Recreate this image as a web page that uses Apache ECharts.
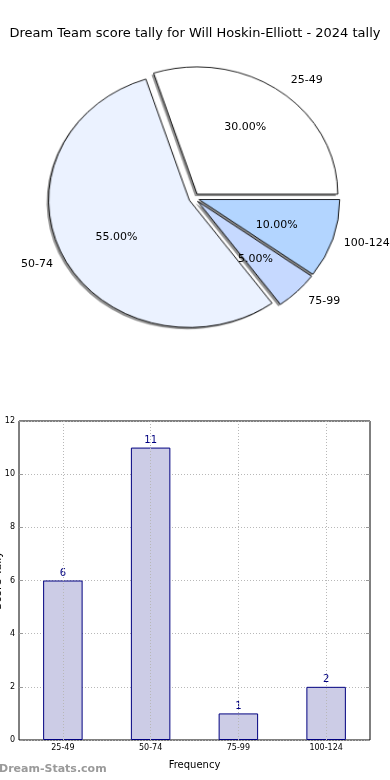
<!DOCTYPE html>
<html>
<head>
<meta charset="utf-8">
<script src="https://cdn.jsdelivr.net/npm/echarts@6/dist/echarts.min.js"></script>
<style>
html,body{margin:0;padding:0;background:#fff;}
#wrap{position:relative;width:390px;height:780px;overflow:hidden;}
#pieShapes{position:absolute;left:0;top:0;width:390px;height:400px;transform-origin:194px 198px;transform:scale(1.05,0.95);}
#chart{position:absolute;left:0;top:0;width:390px;height:780px;}
</style>
</head>
<body>
<div id="wrap">
<div id="pieShapes"></div>
<div id="chart"></div>
</div>
<script>
const titleText = 'Dream Team score tally for Will Hoskin-Elliott - 2024 tally';
const categories = ['25-49', '50-74', '75-99', '100-124'];
const counts = [6, 11, 1, 2];
const yTicksMin = 0, yTicksMax = 12, yTicksStep = 2;

const pieColors = ['#ffffff', '#ebf2ff', '#c6d9ff', '#b3d5ff'];
const FONT = 'DejaVu Sans';
const R = 134;
const CX = 194, CY = 198;
const OFFSET = 5;

const pieData = categories.map((c, i) => ({
  name: c, value: counts[i], selected: true,
  itemStyle: { color: pieColors[i] }
}));
const shadowData = categories.map((c, i) => ({ name: c, value: counts[i], selected: true }));
const labelData = categories.map((c, i) => ({ name: c, value: counts[i], selected: true }));

const pieBase = {
  type: 'pie', clockwise: false, startAngle: 0,
  selectedMode: 'multiple', selectedOffset: OFFSET, silent: true,
  emphasis: { disabled: true }, label: { show: false }, labelLine: { show: false }
};

// pie wedges (drawn in a slightly stretched layer to get the elliptical look)
const shapes = echarts.init(document.getElementById('pieShapes'));
shapes.setOption({
  animation: false,
  backgroundColor: '#fff',
  series: [
    Object.assign({}, pieBase, {
      center: [CX - 2, CY + 2], radius: R,
      itemStyle: { color: 'rgba(110,110,110,0.75)', borderWidth: 0 },
      data: shadowData, z: 1
    }),
    Object.assign({}, pieBase, {
      center: [CX, CY], radius: R,
      itemStyle: { borderColor: '#000', borderWidth: 0.9 },
      data: pieData, z: 2
    })
  ]
});

const chart = echarts.init(document.getElementById('chart'));
const gridStyle = { color: '#b8b8b8', type: [1, 2], width: 1 };

chart.setOption({
  animation: false,
  backgroundColor: 'transparent',
  title: [
    { text: titleText, left: 'center', top: 22,
      textStyle: { fontFamily: FONT, fontSize: 13, fontWeight: 'normal', color: '#000' } },
    { text: 'Dream-Stats.com', left: -1, top: 764, padding: 0,
      textStyle: { fontFamily: FONT, fontSize: 11, fontWeight: 'bold', color: '#9a9a9a' } }
  ],
  grid: { left: 19, right: 20, top: 421, bottom: 40, containLabel: false, outerBoundsMode: 'none',
    show: true, borderColor: '#000', borderWidth: 1, backgroundColor: 'transparent' },
  xAxis: [{
    type: 'category', data: categories, gridIndex: 0,
    name: 'Frequency', nameLocation: 'middle', nameGap: 20, nameMoveOverlap: false,
    nameTextStyle: { fontFamily: FONT, fontSize: 10, color: '#000' },
    axisLine: { show: false },
    axisTick: { show: true, inside: true, alignWithLabel: true, length: 4, lineStyle: { color: '#999' } },
    axisLabel: { fontFamily: FONT, fontSize: 8, color: '#000', margin: 4 },
    splitLine: { show: false }
  }],
  yAxis: [{
    type: 'value', min: yTicksMin, max: yTicksMax, interval: yTicksStep,
    name: 'Score Tally', nameLocation: 'middle', nameGap: 15, nameRotate: 90, nameMoveOverlap: false,
    nameTextStyle: { fontFamily: FONT, fontSize: 11, color: '#000' },
    axisLine: { show: false },
    axisTick: { show: true, inside: true, length: 4, lineStyle: { color: '#999' } },
    axisLabel: { fontFamily: FONT, fontSize: 8, color: '#000', margin: 4 },
    splitLine: { show: true, lineStyle: gridStyle }
  }, {
    type: 'value', min: yTicksMin, max: yTicksMax, interval: yTicksStep, position: 'right',
    axisLine: { show: false },
    axisTick: { show: true, inside: true, length: 4, lineStyle: { color: '#999' } },
    axisLabel: { show: false },
    splitLine: { show: false }
  }],
  series: [
    Object.assign({}, pieBase, {
      center: [CX, CY], radius: R * 1.18,
      itemStyle: { color: 'rgba(0,0,0,0)', borderWidth: 0 },
      label: { show: true, position: 'inside', fontFamily: FONT, fontSize: 11, color: '#000',
        formatter: p => p.percent.toFixed(2) + '%' },
      data: labelData, z: 3
    }),
    Object.assign({}, pieBase, {
      center: [CX, CY], radius: R, avoidLabelOverlap: false,
      itemStyle: { color: 'rgba(0,0,0,0)', borderWidth: 0 },
      label: { show: true, position: 'outside', fontFamily: FONT, fontSize: 11, color: '#000',
        distanceToLabelLine: 0, formatter: '{b}' },
      labelLine: { show: false, length: 7, length2: 11 },
      data: labelData, z: 3
    }),
    {
      type: 'bar', xAxisIndex: 0, yAxisIndex: 0, data: counts, barWidth: '45%',
      itemStyle: { color: '#ccccE6', borderColor: '#000080', borderWidth: 1 },
      label: { show: true, position: 'top', distance: 2, fontFamily: FONT, fontSize: 10, color: '#000080' },
      emphasis: { disabled: true },
      markLine: {
        silent: true, symbol: 'none', label: { show: false },
        lineStyle: gridStyle,
        data: categories.map(c => ({ xAxis: c }))
      }
    }
  ]
});
</script>
</body>
</html>
